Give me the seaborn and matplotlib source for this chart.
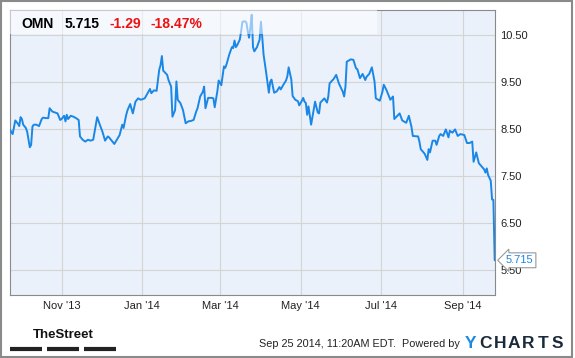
import numpy as np
import pandas as pd
import seaborn as sns
import matplotlib
matplotlib.use("Agg")
from matplotlib import pyplot as plt
import matplotlib.dates as mdates
from matplotlib.patches import Rectangle
from matplotlib.lines import Line2D

# OMN daily close, Sep 2013 - Sep 2014
dates = [
    "2013-09-23", "2013-09-25", "2013-09-27", "2013-09-29", "2013-09-30",
    "2013-10-01", "2013-10-02", "2013-10-03", "2013-10-05", "2013-10-06",
    "2013-10-08", "2013-10-09", "2013-10-10", "2013-10-11", "2013-10-13",
    "2013-10-15", "2013-10-17", "2013-10-18", "2013-10-20", "2013-10-22",
    "2013-10-23", "2013-10-25", "2013-10-27", "2013-10-29", "2013-10-31",
    "2013-11-01", "2013-11-03", "2013-11-04", "2013-11-05", "2013-11-06",
    "2013-11-08", "2013-11-10", "2013-11-12", "2013-11-14", "2013-11-15",
    "2013-11-17", "2013-11-19", "2013-11-21", "2013-11-23", "2013-11-25",
    "2013-11-28", "2013-11-30", "2013-12-02", "2013-12-04", "2013-12-06",
    "2013-12-07", "2013-12-11", "2013-12-15", "2013-12-17", "2013-12-18",
    "2013-12-20", "2013-12-21", "2013-12-23", "2013-12-25", "2013-12-27",
    "2013-12-29", "2013-12-31", "2014-01-03", "2014-01-05", "2014-01-07",
    "2014-01-08", "2014-01-10", "2014-01-12", "2014-01-14", "2014-01-15",
    "2014-01-16", "2014-01-17", "2014-01-20", "2014-01-21", "2014-01-23",
    "2014-01-24", "2014-01-26", "2014-01-27", "2014-01-28", "2014-01-30",
    "2014-02-01", "2014-02-03", "2014-02-05", "2014-02-07", "2014-02-09",
    "2014-02-11", "2014-02-12", "2014-02-14", "2014-02-16", "2014-02-17",
    "2014-02-18", "2014-02-20", "2014-02-23", "2014-02-24", "2014-02-25",
    "2014-02-27", "2014-02-28", "2014-03-02", "2014-03-04", "2014-03-05",
    "2014-03-06", "2014-03-08", "2014-03-10", "2014-03-11", "2014-03-12",
    "2014-03-13", "2014-03-14", "2014-03-16", "2014-03-17", "2014-03-18",
    "2014-03-20", "2014-03-21", "2014-03-22", "2014-03-23", "2014-03-24",
    "2014-03-25", "2014-03-26", "2014-03-27", "2014-03-29", "2014-03-31",
    "2014-04-01", "2014-04-02", "2014-04-03", "2014-04-05", "2014-04-07",
    "2014-04-08", "2014-04-09", "2014-04-11", "2014-04-13", "2014-04-15",
    "2014-04-16", "2014-04-18", "2014-04-20", "2014-04-21", "2014-04-22",
    "2014-04-24", "2014-04-25", "2014-04-27", "2014-04-29", "2014-04-30",
    "2014-05-02", "2014-05-03", "2014-05-04", "2014-05-05", "2014-05-06",
    "2014-05-07", "2014-05-09", "2014-05-12", "2014-05-14", "2014-05-15",
    "2014-05-16", "2014-05-19", "2014-05-21", "2014-05-22", "2014-05-23",
    "2014-05-26", "2014-05-28", "2014-05-30", "2014-06-02", "2014-06-03",
    "2014-06-04", "2014-06-05", "2014-06-08", "2014-06-10", "2014-06-12",
    "2014-06-13", "2014-06-15", "2014-06-17", "2014-06-19", "2014-06-20",
    "2014-06-22", "2014-06-24", "2014-06-26", "2014-06-27", "2014-06-30",
    "2014-07-02", "2014-07-03", "2014-07-05", "2014-07-07", "2014-07-08",
    "2014-07-10", "2014-07-11", "2014-07-14", "2014-07-15", "2014-07-17",
    "2014-07-20", "2014-07-22", "2014-07-24", "2014-07-25", "2014-07-29",
    "2014-07-30", "2014-07-31", "2014-08-03", "2014-08-05", "2014-08-06",
    "2014-08-07", "2014-08-09", "2014-08-11", "2014-08-12", "2014-08-14",
    "2014-08-15", "2014-08-17", "2014-08-19", "2014-08-21", "2014-08-22",
    "2014-08-24", "2014-08-26", "2014-08-28", "2014-08-30", "2014-09-02",
    "2014-09-04", "2014-09-06", "2014-09-08", "2014-09-09", "2014-09-11",
    "2014-09-13", "2014-09-17", "2014-09-18", "2014-09-19", "2014-09-20",
    "2014-09-22", "2014-09-23", "2014-09-24", "2014-09-25",
]
prices = [
    8.49, 8.40, 8.69, 8.62, 8.57,
    8.76, 8.72, 8.60, 8.53, 8.45,
    8.12, 8.17, 8.56, 8.60, 8.60,
    8.57, 8.72, 8.75, 8.74, 8.74,
    8.95, 8.88, 8.86, 8.84, 8.70,
    8.72, 8.79, 8.67, 8.81, 8.72,
    8.79, 8.77, 8.74, 8.70, 8.35,
    8.28, 8.24, 8.28, 8.26, 8.28,
    8.76, 8.60, 8.45, 8.26, 8.35,
    8.33, 8.19, 8.38, 8.60, 8.53,
    8.81, 8.91, 9.04, 8.84, 9.09,
    9.16, 9.13, 9.16, 9.26, 9.36,
    9.27, 9.33, 9.32, 9.77, 9.87,
    10.06, 9.75, 9.66, 9.55, 9.41,
    8.77, 8.91, 9.52, 9.13, 9.06,
    8.91, 8.63, 8.67, 8.68, 8.70,
    8.88, 8.95, 9.20, 9.30, 9.41,
    8.95, 9.17, 9.17, 9.16, 8.97,
    9.31, 9.54, 9.44, 9.84, 9.81,
    9.89, 10.09, 10.25, 10.23, 10.39,
    10.25, 10.29, 10.41, 10.59, 10.79,
    10.80, 10.77, 10.59, 10.45, 10.66,
    10.94, 10.25, 10.16, 10.25, 10.41,
    10.79, 10.46, 10.09, 9.70, 9.28,
    9.51, 9.56, 9.28, 9.31, 9.40,
    9.35, 9.45, 9.54, 9.63, 9.82,
    9.56, 9.21, 9.13, 9.10, 9.01,
    9.11, 9.17, 9.09, 9.06, 8.81,
    8.99, 8.60, 9.09, 8.86, 8.84,
    9.07, 9.16, 9.07, 9.20, 9.48,
    9.57, 9.66, 9.48, 9.30, 9.20,
    9.41, 9.94, 9.99, 9.98, 9.80,
    9.78, 9.59, 9.68, 9.55, 9.62,
    9.68, 9.82, 9.52, 9.16, 9.11,
    9.30, 9.45, 9.34, 9.20, 9.13,
    9.20, 8.72, 8.81, 8.84, 8.69,
    8.64, 8.79, 8.55, 8.36, 8.35,
    8.24, 8.08, 7.98, 7.85, 8.08,
    8.01, 8.26, 8.26, 8.17, 8.36,
    8.40, 8.36, 8.50, 8.33, 8.47,
    8.43, 8.50, 8.36, 8.40, 8.38,
    8.21, 8.21, 8.24, 7.81, 8.01,
    7.78, 7.65, 7.58, 7.67, 7.53,
    7.41, 7.01, 7.00, 5.715,
]

ticker = "OMN"
last_price = "5.715"
change = "-1.29"
change_pct = "-18.47%"
y_ticks = [5.5, 6.5, 7.5, 8.5, 9.5, 10.5]
stamp = "Sep 25 2014, 11:20AM EDT.  Powered by"
brand = "YCHARTS"

LINE = "#1a87e6"
BG = "#eaf1fb"
RED = "#ee1111"

df = pd.DataFrame({"date": pd.to_datetime(dates), "price": prices})

sns.set_theme(style="whitegrid")
plt.rcParams["font.family"] = ["Liberation Sans", "DejaVu Sans"]

W, H = 575, 358
fig = plt.figure(figsize=(W / 100, H / 100), dpi=100)
fig.patch.set_facecolor("white")
ax = fig.add_axes([10 / W, 1 - 295.3 / H, 484.7 / W, 285.3 / H])
ax.set_facecolor(BG)

sns.lineplot(data=df, x="date", y="price", ax=ax, color=LINE, linewidth=1.4, zorder=3)

ax.set_xlim(df["date"].iloc[0], df["date"].iloc[-1])
ax.set_ylim(4.97, 11.04)
ax.set_xlabel("")
ax.set_ylabel("")

ax.yaxis.tick_right()
ax.set_yticks(y_ticks)
ax.set_yticklabels([f"{v:.2f}" for v in y_ticks])
ax.xaxis.set_major_locator(mdates.MonthLocator(bymonth=[1, 3, 5, 7, 9, 11]))
ax.xaxis.set_major_formatter(mdates.DateFormatter("%b '%y"))
ax.tick_params(axis="both", length=0, labelsize=8, labelcolor="#222222")
ax.tick_params(axis="y", pad=4)
ax.tick_params(axis="x", pad=4)
ax.grid(True, color="#d4d4d4", linewidth=0.8)
for s in ax.spines.values():
    s.set_visible(True)
    s.set_color("#8a8a8a")
    s.set_linewidth(0.8)

# translucent header band
hh = 24 / 285.3
ax.add_patch(Rectangle((0, 1 - hh), 367 / 484.7, hh, transform=ax.transAxes,
                       facecolor="white", alpha=0.55, edgecolor="none", zorder=4))
ty = 1 - 23.5 / H
fig.text(21.7 / W, ty, ticker, fontsize=10, fontweight="bold", color="black", va="center")
fig.text(64.3 / W, ty, last_price, fontsize=10, fontweight="bold", color="black", va="center")
fig.text(110 / W, ty, change, fontsize=10, fontweight="bold", color=RED, va="center")
fig.text(150.7 / W, ty, change_pct, fontsize=10, fontweight="bold", color=RED, va="center")

# last value callout
ax.annotate(last_price, xy=(df["date"].iloc[-1], prices[-1]), xytext=(8, 0),
            textcoords="offset points", fontsize=8, color=LINE, va="center", ha="left",
            annotation_clip=False, zorder=6,
            bbox=dict(boxstyle="larrow,pad=0.22", fc="white", ec="#999999", lw=0.8))

# footer
fig.text(63 / W, 1 - 335.5 / H, "TheStreet", fontsize=9.5, fontweight="bold",
         family=["Liberation Sans Narrow", "Liberation Sans"], ha="center", va="center",
         color="#111111")
for x0, x1 in [(10.3, 42), (47, 79), (83.6, 115.5)]:
    fig.add_artist(Line2D([x0 / W, x1 / W], [1 - 349 / H, 1 - 349 / H], color="#222222",
                          linewidth=3, solid_capstyle="butt"))
fig.text(460 / W, 1 - 344 / H, stamp, fontsize=7.8, ha="right", va="center", color="#222222")
for i, ch in enumerate(brand):
    fig.text((471 + i * 14.4) / W, 1 - 344 / H, ch, fontsize=12.5, fontweight="bold",
             ha="center", va="center", color="#1a8ae6" if i == 0 else "#1b2a3a")

# outer frame
fig.add_artist(Rectangle((0.8 / W, 1 - 357 / H), 571 / W, 356 / H, transform=fig.transFigure,
                         fill=False, edgecolor="#8a8a8a", linewidth=1.5))

fig.savefig("out.png", dpi=100)
